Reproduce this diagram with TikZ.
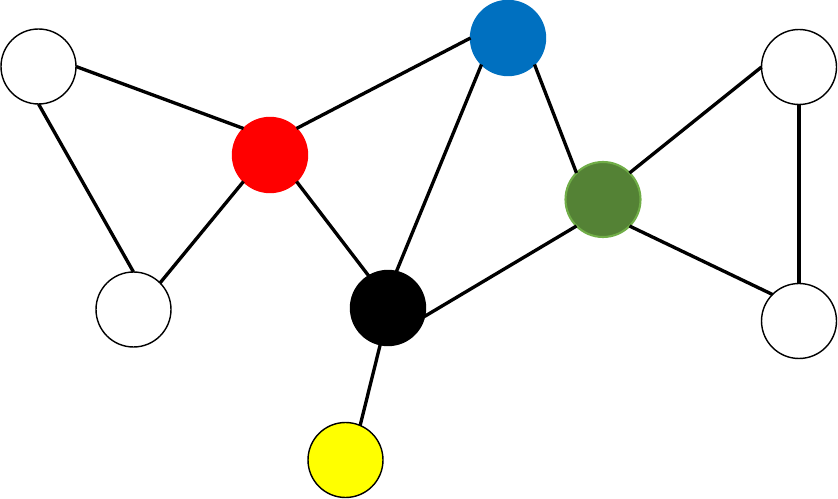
\documentclass[tikz,border=0pt]{standalone}
\usepackage{tikz}
\definecolor{nodeblue}{HTML}{0070C0}
\definecolor{nodegreen}{HTML}{548235}
\definecolor{greenrim}{HTML}{70AD47}
\definecolor{nodeyellow}{HTML}{FFFF00}
\definecolor{nodered}{HTML}{FF0000}
\tikzset{vertex/.style={circle, minimum size=1.5cm, inner sep=0pt, outer sep=0pt, draw=black, line width=.8pt, fill=#1}, vertex/.default={white},
	link/.style={line width=1.9pt}}

\begin{document}
\begin{tikzpicture}[x=.02cm,y=-.02cm]
	% frame
	\useasboundingbox (0,0) rectangle (838,499);
	
	% white vertices
	\node[vertex] (topleft) at (38.5,66.5) {};
	\node[vertex] (botleft) at (133.5,309.5) {};
	\node[vertex] (topright) at (799,67) {};
	\node[vertex] (botright) at (799,321) {};
	
	% coloured vertices
	\node[vertex=nodered, draw=nodered] (red) at (270,155) {};
	\node[vertex=nodeblue, draw=nodeblue] (blue) at (508,38) {};
	\node[vertex=nodegreen, draw=greenrim, line width=1.2pt] (green) at (603,199.5) {};
	\node[vertex=black] (black) at (388,308) {};
	\node[vertex=nodeyellow] (yellow) at (345.5,460) {};
	
	% edges left
	\draw[link] (topleft.east) -- (red.north west);
	\draw[link] (topleft.south) -- (botleft.north);
	\draw[link] (botleft.north east) -- (red.south west);
	\draw[link] (red.north east) -- (blue.west);
	\draw[link] (red.south east) -- (black.121);
	% edges middle
	\draw[link] (blue.south west) -- (black.77);
	\draw[link] (blue.south east) -- (green.north west);
	\draw[link] (black.-13) -- (green.south west);
	\draw[link] (black.258) -- (yellow.67);
	% edges right
	\draw[link] (green.north east) -- (topright.west);
	\draw[link] (green.south east) -- (botright.north west);
	\draw[link] (topright.south) -- (botright.north);
\end{tikzpicture}
\end{document}
